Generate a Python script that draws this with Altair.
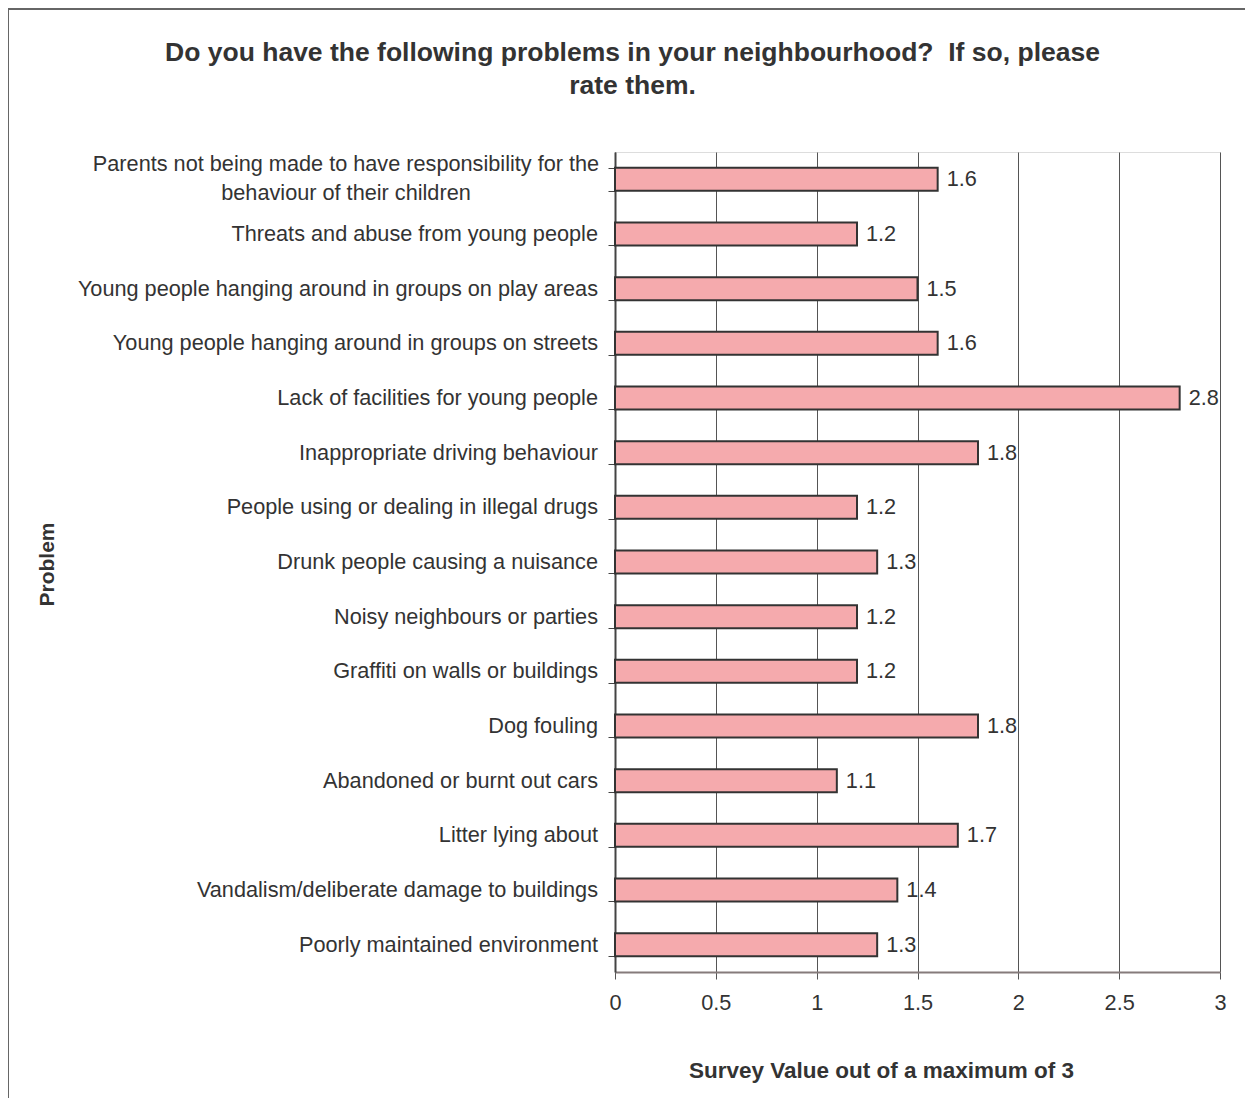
import altair as alt
import pandas as pd

categories = [
    "Parents not being made to have responsibility for the\nbehaviour of their children",
    "Threats and abuse from young people",
    "Young people hanging around in groups on play areas",
    "Young people hanging around in groups on streets",
    "Lack of facilities for young people",
    "Inappropriate driving behaviour",
    "People using or dealing in illegal drugs",
    "Drunk people causing a nuisance",
    "Noisy neighbours or parties",
    "Graffiti on walls or buildings",
    "Dog fouling",
    "Abandoned or burnt out cars",
    "Litter lying about",
    "Vandalism/deliberate damage to buildings",
    "Poorly maintained environment",
]
values = [1.6, 1.2, 1.5, 1.6, 2.8, 1.8, 1.2, 1.3, 1.2, 1.2, 1.8, 1.1, 1.7, 1.4, 1.3]
x_ticks = [0, 0.5, 1, 1.5, 2, 2.5, 3]

title_lines = ["Do you have the following problems in your neighbourhood?\u00a0 If so, please", "rate them."]
x_title = "Survey Value out of a maximum of 3"
y_title = "Problem"

df = pd.DataFrame({"problem": categories, "value": values})
df["multi"] = df["problem"].str.contains("\n")

FONT = "Liberation Sans"
TXT = "#333333"
LBL = 21.7

ysc = alt.Scale(domain=categories, paddingInner=0.58, paddingOuter=0.29)
xsc = alt.Scale(domain=[0, 3], nice=False)

x_axis = alt.Axis(values=x_ticks, format="~g", title=x_title, grid=True,
                  gridColor="#555555", gridWidth=1, tickSize=7, tickColor="#555555",
                  domainColor="#857b7b", domainWidth=2, labelFontSize=LBL,
                  labelColor=TXT, labelPadding=13, labelFont=FONT, labelFlush=False,
                  titleFont=FONT, titleFontSize=22.5, titleFontWeight="bold",
                  titleColor="#333333", titleX=266, titleY=98,
                  titleAlign="center", titleBaseline="middle")
y_axis = alt.Axis(labels=False, tickBand="extent", tickSize=7, tickColor="#444444",
                  domainColor="#444444", domainWidth=2, grid=False,
                  title=y_title, titleFont=FONT, titleFontSize=21,
                  titleFontWeight="bold", titleColor="#333333",
                  titleX=-568, titleY=412, titleAngle=270,
                  titleAlign="center", titleBaseline="middle")

base = alt.Chart(df)

bars = base.mark_bar(fill="#F5AAAD", stroke="#333333", strokeWidth=2).encode(
    x=alt.X("value:Q", scale=xsc, axis=x_axis),
    y=alt.Y("problem:N", scale=ysc, axis=y_axis),
)

value_labels = base.mark_text(align="left", baseline="middle", dx=9, fontSize=LBL,
                              font=FONT, color=TXT).encode(
    x=alt.X("value:Q", scale=xsc, axis=x_axis),
    y=alt.Y("problem:N", scale=ysc, axis=y_axis),
    text=alt.Text("value:Q", format=".1f"),
)

single_labels = base.transform_filter("!datum.multi").mark_text(
    align="right", baseline="middle", fontSize=LBL, font=FONT, color=TXT
).encode(
    x=alt.value(-17),
    y=alt.Y("problem:N", scale=ysc, axis=y_axis),
    text="problem:N",
)

multi_labels = base.transform_filter("datum.multi").mark_text(
    align="center", baseline="middle", fontSize=LBL, font=FONT, color=TXT,
    lineBreak="\n", lineHeight=29, dy=-15.5
).encode(
    x=alt.value(-269),
    y=alt.Y("problem:N", scale=ysc, axis=y_axis),
    text="problem:N",
)

frame_df = pd.DataFrame({"k": [0]})
top_rule = alt.Chart(frame_df).mark_rule(color="#666666", strokeWidth=2).encode(
    x=alt.value(-607), x2=alt.value(640), y=alt.value(-143))
left_rule = alt.Chart(frame_df).mark_rule(color="#666666", strokeWidth=2).encode(
    x=alt.value(-607), y=alt.value(-143), y2=alt.value(1000))

chart = alt.layer(top_rule, left_rule, bars, value_labels, single_labels, multi_labels).properties(
    width=605,
    height=820,
    autosize=alt.AutoSizeParams(type="none"),
    padding={"left": 607, "top": 144, "right": 25, "bottom": 126},
    title=alt.Title(title_lines, fontSize=26.5, font=FONT, fontWeight="bold",
                    color="#333333", lineHeight=33, offset=-91, dx=-285,
                    anchor="middle", frame="group"),
).configure_view(stroke="#8c8282", strokeWidth=2).configure(background="white")

chart.save("out.html", embed_options={"renderer": "svg", "actions": False})
